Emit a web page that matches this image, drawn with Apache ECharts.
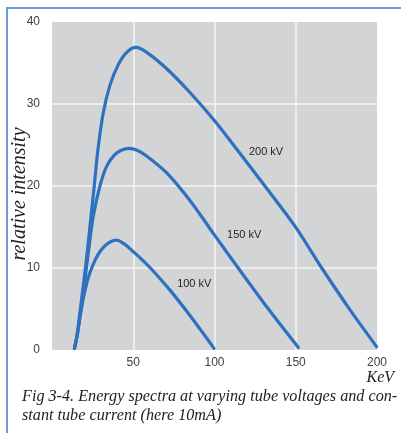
<!DOCTYPE html>
<html>
<head>
<meta charset="utf-8">
<script src="https://cdn.jsdelivr.net/npm/echarts@6/dist/echarts.min.js"></script>
<style>
html,body{margin:0;padding:0;background:#fff;}
#chart{width:401px;height:433px;}
</style>
</head>
<body>
<div id="chart"></div>
<script>
// Energy (keV) and relative intensity for each tube voltage
const kev100 = [13.8, 15.5, 17.2, 19.5, 22, 25, 28.5, 32.5, 36, 39.8, 44, 50, 56, 62, 72.6, 84.9, 99.7];
const int100 = [0.2, 1.8, 4.0, 6.5, 8.6, 10.3, 11.7, 12.7, 13.2, 13.4, 13.0, 12.0, 10.9, 9.7, 7.3, 4.2, 0.2];

const kev150 = [13.8, 15.5, 17.2, 19.9, 22.3, 25.4, 29.5, 33.6, 38.5, 43, 47.5, 52, 58, 70.6, 85, 99.7, 114.6, 132, 151.6];
const int150 = [0.2, 1.8, 4.1, 8.0, 11.8, 16.3, 20.0, 22.4, 23.8, 24.4, 24.6, 24.4, 23.7, 21.6, 18.2, 14.1, 10.0, 5.3, 0.3];

const kev200 = [13.8, 15.5, 17.0, 19.6, 22.0, 24.0, 26.0, 28.3, 31.6, 35.7, 40.8, 46, 51.7, 58.3, 70.6, 84.9, 100.3, 113.6, 131, 149.5, 166, 183.4, 199.8];
const int200 = [0.2, 1.9, 4.3, 8.4, 12.5, 16.3, 20.0, 24.5, 29.0, 32.3, 34.8, 36.3, 36.9, 36.3, 34.3, 31.4, 27.9, 24.5, 20.0, 15.1, 10.0, 4.9, 0.4];

const seriesNames = ['100 kV', '150 kV', '200 kV'];
// label anchor points in data units (keV, intensity)
const labelKev = [77, 107.7, 121.2];
const labelInt = [8, 14, 24.1];

const xTicks = [0, 50, 100, 150, 200];
const yTicks = [0, 10, 20, 30, 40];

const curves = [[kev100, int100], [kev150, int150], [kev200, int200]];

const lineColor = '#2e72bf';

const series = curves.map(function (c, i) {
  return {
    type: 'line',
    name: seriesNames[i],
    data: c[0].map(function (x, j) { return [x, c[1][j]]; }),
    smooth: 0.3,
    showSymbol: false,
    symbol: 'none',
    lineStyle: { color: lineColor, width: 3.2, cap: 'round', join: 'round' },
    z: 3,
    markPoint: {
      symbol: 'circle',
      symbolSize: 0,
      silent: true,
      data: [{
        coord: [labelKev[i], labelInt[i]],
        label: {
          show: true,
          position: 'right',
          distance: 0,
          formatter: seriesNames[i],
          color: '#262626',
          fontSize: 11,
          fontFamily: 'Liberation Sans, Arial, sans-serif'
        }
      }]
    }
  };
});

const chart = echarts.init(document.getElementById('chart'), null, { renderer: 'canvas' });
chart.setOption({
  animation: false,
  backgroundColor: '#ffffff',
  grid: {
    left: 52, right: 24, top: 22, bottom: 83,
    containLabel: false,
    outerBoundsMode: 'none',
    show: true, backgroundColor: '#d3d4d6', borderWidth: 0
  },
  xAxis: {
    type: 'value',
    min: xTicks[0], max: xTicks[xTicks.length - 1], interval: 50,
    axisLine: { show: false },
    axisTick: { show: false },
    axisLabel: {
      margin: 7,
      color: '#404040', fontSize: 12,
      fontFamily: 'Liberation Sans, Arial, sans-serif',
      formatter: function (v) { return v === 0 ? '' : String(v); }
    },
    splitLine: { show: true, showMinLine: false, showMaxLine: false, lineStyle: { color: '#f4f4f4', width: 1.5 } }
  },
  yAxis: {
    type: 'value',
    min: yTicks[0], max: yTicks[yTicks.length - 1], interval: 10,
    axisLine: { show: false },
    axisTick: { show: false },
    axisLabel: {
      margin: 12,
      color: '#404040', fontSize: 12,
      fontFamily: 'Liberation Sans, Arial, sans-serif'
    },
    splitLine: { show: true, showMinLine: false, showMaxLine: false, lineStyle: { color: '#f4f4f4', width: 1.5 } }
  },
  graphic: [
    {
      type: 'polyline',
      shape: { points: [[7, 433], [7, 8], [401, 8]] },
      style: { stroke: '#6d9dd6', lineWidth: 2, fill: null }
    },
    {
      type: 'text', x: 20, y: 194, rotation: Math.PI / 2,
      style: {
        text: 'relative intensity', font: 'italic 20px "Liberation Serif", serif', fill: '#222',
        align: 'center', verticalAlign: 'middle'
      }
    },
    {
      type: 'text', right: 7, top: 370,
      style: { text: 'KeV', font: 'italic 16px "Liberation Serif", serif', fill: '#222' }
    },
    {
      type: 'text', left: 22, top: 387,
      style: {
        text: 'Fig 3-4. Energy spectra at varying tube voltages and con-\nstant tube current (here 10mA)',
        font: 'italic 16.2px "Liberation Serif", serif', fill: '#222', lineHeight: 19
      }
    }
  ],
  series: series
});
</script>
</body>
</html>
